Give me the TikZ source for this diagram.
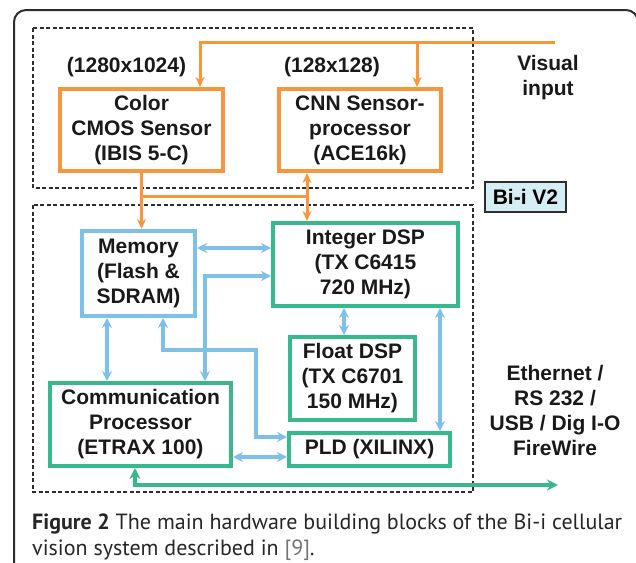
\documentclass[tikz,border=0pt]{standalone}
\usepackage{fontspec}
\setmainfont{Liberation Sans}
\newfontfamily\capfont{PT Sans}
\usepackage{xcolor}
\usepackage{tikz}
\usetikzlibrary{positioning,arrows.meta}

\definecolor{sensorange}{RGB}{247,150,60}
\definecolor{membl}{RGB}{125,192,232}
\definecolor{dspgreen}{RGB}{56,184,140}
\definecolor{tagfill}{RGB}{213,238,243}
\definecolor{framegray}{RGB}{45,45,45}

\tikzset{
	blk/.style={draw, line width=4pt, align=center, inner sep=0pt,
		font=\fontsize{21}{25}\selectfont\bfseries, text=black!90},
	sensor/.style={blk, draw=sensorange},
	mem/.style={blk, draw=membl},
	proc/.style={blk, draw=dspgreen},
	lbl/.style={align=center, font=\fontsize{21}{25}\selectfont\bfseries, text=black!90},
	grp/.style={draw=framegray, line width=1.1pt, dash pattern=on 4pt off 2.5pt},
	olink/.style={draw=sensorange, line width=3pt, -{Stealth[length=10pt,width=9pt]}},
	blink/.style={draw=membl, line width=3.2pt, {Stealth[length=10pt,width=10pt]}-{Stealth[length=10pt,width=10pt]}},
	glink/.style={draw=dspgreen, line width=3.2pt, {Stealth[length=11pt,width=11pt]}-{Stealth[length=11pt,width=11pt]}}
}

\begin{document}
\begin{tikzpicture}[x=1pt,y=-1pt]
	\clip (0,0) rectangle (636,562);
	\draw[framegray, line width=2pt, rounded corners=12pt] (14,10) rectangle (638,620);
	
	% the two groups
	\draw[grp] (33,28) rectangle (473,188);
	\draw[grp] (33,205) rectangle (473,492);
	
	% sensors
	\node[sensor, minimum width=163, minimum height=82] (cmos) at (141.5,130) {Color\\CMOS Sensor\\(IBIS 5-C)};
	\node[sensor, minimum width=162, minimum height=82] (cnn) at (360,130) {CNN Sensor-\\processor\\(ACE16k)};
	\node[lbl, above=7pt of cmos.north, xshift=-15pt] (res1) {(1280x1024)};
	\node[lbl, above=7pt of cnn.north, xshift=-28pt] (res2) {(128x128)};
	
	% processing board
	\node[mem, minimum width=113, minimum height=85] (memory) at (138.5,273.5) {Memory\\(Flash \&\\SDRAM)};
	\node[proc, minimum width=185, minimum height=83] (intdsp) at (365.5,264.5) {Integer DSP\\(TX C6415\\720 MHz)};
	\node[proc, minimum width=125, minimum height=83] (fltdsp) at (352.5,378.5) {Float DSP\\(TX C6701\\150 MHz)};
	\node[proc, minimum width=181, minimum height=83] (comm) at (140.5,424.5) {Communication\\Processor\\(ETRAX 100)};
	\node[proc, minimum width=161, minimum height=33] (pld) at (369.5,449.5) {PLD (XILINX)};
	
	% side labels
	\node[draw=framegray, fill=tagfill, line width=1.5pt, minimum width=81, minimum height=30,
		inner sep=0pt, font=\fontsize{21}{25}\selectfont\bfseries] (tag) at (525.5,197) {Bi-i V2};
	\node[lbl] (visin) at (548,78) {Visual\\input};
	\node[lbl] (ports) at (555,410) {Ethernet /\\RS 232 /\\USB / Dig I-O\\FireWire};
	
	% helper points
	\coordinate (vin) at (555,42);
	\coordinate (obus) at (307,196);
	\coordinate (k1) at (256,350);
	\coordinate (eth) at (558,485);
	
	% orange connections
	\draw[olink] (vin) -| ([xshift=58.5pt]cmos.north);
	\draw[olink] ([xshift=57pt]cnn.north |- vin) -- ([xshift=57pt]cnn.north);
	\draw[olink] (cmos.south) -- (cmos.south |- memory.north);
	\draw[sensorange, line width=3pt] (cmos.south |- obus) -- (obus);
	\draw[olink, {Stealth[length=10pt,width=9pt]}-{Stealth[length=10pt,width=9pt]}] ([xshift=-53pt]cnn.south) -- ([xshift=-53pt]cnn.south |- intdsp.north);
	
	% blue connections
	\draw[blink] ([yshift=25.5pt]memory.east) -- ([yshift=25.5pt]memory.east -| intdsp.west);
	\draw[blink] ([xshift=64.5pt]comm.north) |- ([yshift=-11.5pt]intdsp.west);
	\draw[blink] ([xshift=-31.5pt]memory.south) -- ([xshift=-31.5pt]memory.south |- comm.north);
	\draw[blink] ([xshift=24.5pt]memory.south) |- (k1) |- ([yshift=12.5pt]pld.west);
	\draw[blink] ([xshift=-21.5pt]intdsp.south) -- ([xshift=-21.5pt]intdsp.south |- fltdsp.north);
	\draw[blink] ([xshift=74.5pt]intdsp.south) -- ([xshift=74.5pt]intdsp.south |- pld.north);
	\draw[blink] ([yshift=-7.5pt]pld.west) -- ([yshift=-7.5pt]pld.west -| comm.east);
	
	% green link to the outside
	\draw[glink] ([xshift=-5.5pt]comm.south) |- (eth);
	
	% caption
	\node[anchor=north west, align=left, inner sep=0pt, text=black!85,
		font=\capfont\fontsize{22}{26}\selectfont] (cap) at (32,514)
		{\textbf{Figure 2} The main hardware building blocks of the Bi-i cellular\\
		 vision system described in {\color{black!55}[9]}.};
\end{tikzpicture}
\end{document}
